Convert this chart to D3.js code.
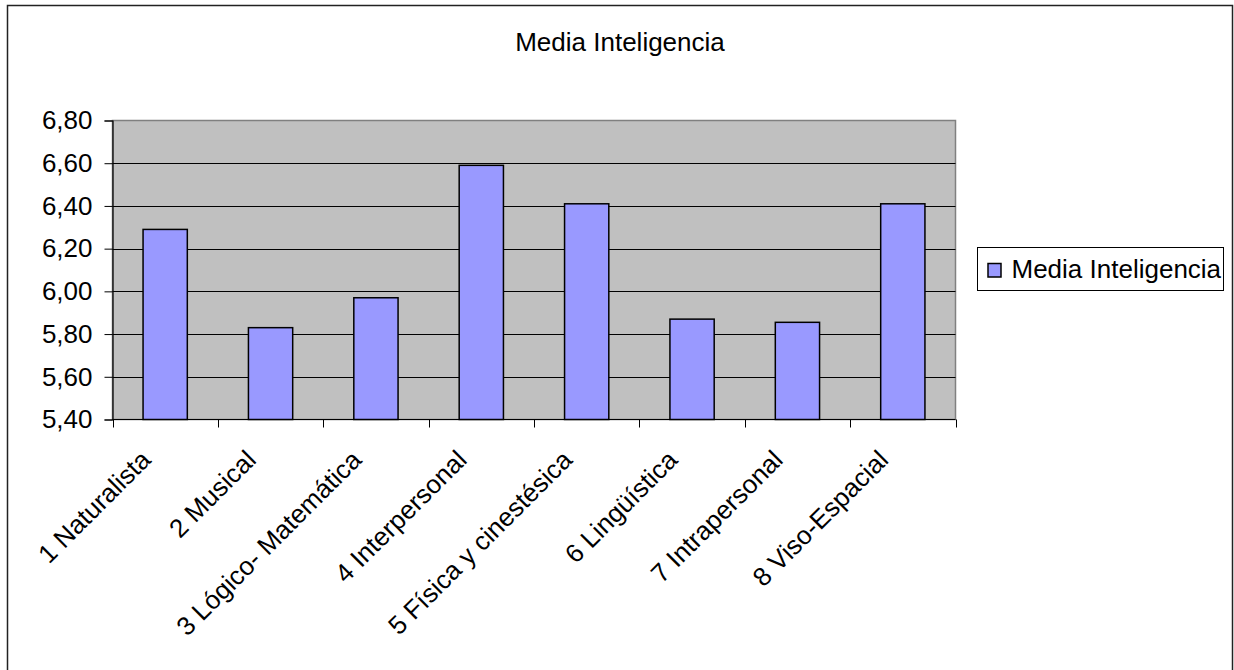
<!DOCTYPE html>
<html>
<head>
<meta charset="utf-8">
<script src="https://cdn.jsdelivr.net/npm/d3@7"></script>
<style>
  body { margin: 0; background: #fff; }
  svg { display: block; font-family: 'Liberation Sans', Arial, sans-serif; }
</style>
</head>
<body>
<svg id="chart" width="1234" height="670"></svg>
<script>
const categories = [
  '1 Naturalista',
  '2 Musical',
  '3 Lógico- Matemática',
  '4 Interpersonal',
  '5 Física y cinestésica',
  '6 Lingüística',
  '7 Intrapersonal',
  '8 Viso-Espacial'
]
const mediaValues = [6.29, 5.83, 5.97, 6.59, 6.41, 5.87, 5.855, 6.41]
const yTicks = [5.4, 5.6, 5.8, 6.0, 6.2, 6.4, 6.6, 6.8]
const seriesName = 'Media Inteligencia'

const svg = d3.select('#chart')
const margin = { left: 112.5, top: 120.5, right: 955.5, bottom: 419.5 }
const fontSize = '26px'

// outer chart border
svg.append('rect')
  .attr('x', 7.5).attr('y', 5.5)
  .attr('width', 1225).attr('height', 700)
  .attr('fill', '#fff')
  .attr('stroke', '#222')
  .attr('stroke-width', 1.5)

svg.append('text')
  .attr('x', 620).attr('y', 51)
  .attr('text-anchor', 'middle')
  .style('font-size', fontSize)
  .text('Media Inteligencia')

const x = d3.scaleBand()
  .domain(categories)
  .range([margin.left, margin.right])

const y = d3.scaleLinear()
  .domain([5.4, 6.8])
  .range([margin.bottom, margin.top])

// plot area
svg.append('rect')
  .attr('x', margin.left).attr('y', margin.top)
  .attr('width', margin.right - margin.left)
  .attr('height', margin.bottom - margin.top)
  .attr('fill', '#c0c0c0')
  .attr('stroke', '#808080')
  .attr('stroke-width', 1.5)

// gridlines
svg.append('g')
  .selectAll('line')
  .data(yTicks.slice(1, -1))
  .join('line')
  .attr('x1', margin.left).attr('x2', margin.right)
  .attr('y1', d => Math.round(y(d)) + 0.5)
  .attr('y2', d => Math.round(y(d)) + 0.5)
  .attr('stroke', '#000')
  .attr('stroke-width', 1)

// bars
const barW = x.bandwidth() * 0.42
svg.append('g')
  .selectAll('rect')
  .data(mediaValues)
  .join('rect')
  .attr('x', (d, i) => x(categories[i]) + (x.bandwidth() - barW) / 2)
  .attr('y', d => y(d))
  .attr('width', barW)
  .attr('height', d => margin.bottom - y(d))
  .attr('fill', '#9999ff')
  .attr('stroke', '#000')
  .attr('stroke-width', 1.5)

// y axis
const yAxis = d3.axisLeft(y)
  .tickValues(yTicks)
  .tickSize(8)
  .tickPadding(12)
  .tickFormat(d => d3.format('.2f')(d).replace('.', ','))

svg.append('g')
  .attr('transform', `translate(${margin.left},0)`)
  .call(yAxis)
  .call(g => g.select('.domain').attr('stroke', '#000').attr('stroke-width', 1.2))
  .call(g => g.selectAll('.tick line').attr('stroke', '#000'))
  .call(g => g.selectAll('.tick text')
    .attr('fill', '#000')
    .style('font-size', fontSize)
    .style('font-family', "'Liberation Sans', Arial, sans-serif"))

// x axis: ticks at band boundaries
const xAxisG = svg.append('g')
svg.append('line')
  .attr('x1', margin.left).attr('x2', margin.right)
  .attr('y1', margin.bottom).attr('y2', margin.bottom)
  .attr('stroke', '#000').attr('stroke-width', 1.2)
xAxisG.selectAll('line')
  .data(d3.range(categories.length + 1))
  .join('line')
  .attr('x1', i => Math.round(margin.left + i * x.step()) + 0.5)
  .attr('x2', i => Math.round(margin.left + i * x.step()) + 0.5)
  .attr('y1', margin.bottom).attr('y2', margin.bottom + 8)
  .attr('stroke', '#000')

xAxisG.selectAll('text')
  .data(categories)
  .join('text')
  .attr('text-anchor', 'end')
  .attr('transform', d => `translate(${x(d) + x.bandwidth() / 2 - 13},${margin.bottom + 42}) rotate(-45)`)
  .style('font-size', fontSize)
  .text(d => d)

// legend
const legend = svg.append('g').attr('transform', 'translate(977.5,247.5)')
legend.append('rect')
  .attr('width', 246).attr('height', 43)
  .attr('fill', '#fff')
  .attr('stroke', '#000')
  .attr('stroke-width', 1)
legend.append('rect')
  .attr('x', 10.5).attr('y', 16)
  .attr('width', 13).attr('height', 13.5)
  .attr('fill', '#9999ff')
  .attr('stroke', '#000')
  .attr('stroke-width', 1.5)
legend.append('text')
  .attr('x', 34).attr('y', 30)
  .style('font-size', fontSize)
  .text(seriesName)
</script>
</body>
</html>
